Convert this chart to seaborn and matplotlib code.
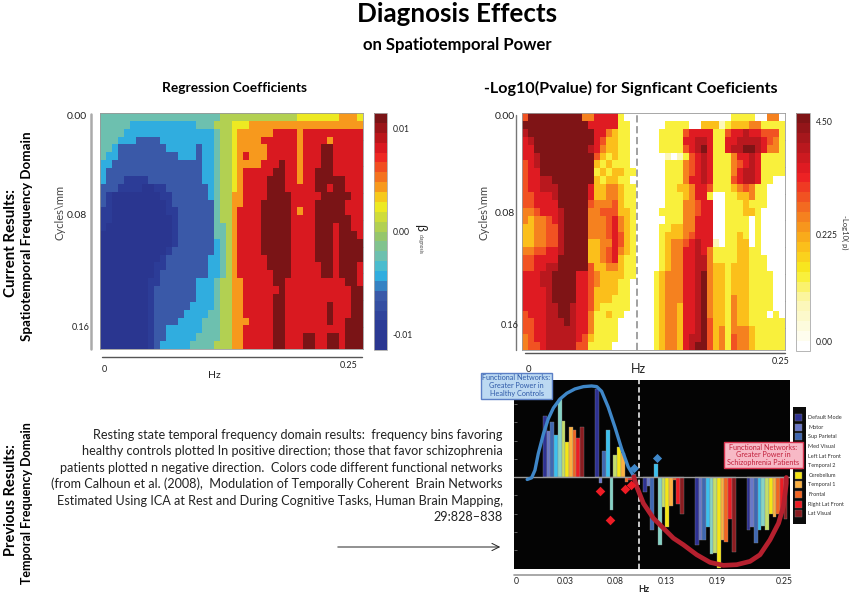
import numpy as np
import pandas as pd
import seaborn as sns
import matplotlib
matplotlib.use("Agg")
import matplotlib.pyplot as plt
from matplotlib.colors import LinearSegmentedColormap
from matplotlib.patches import Rectangle, FancyArrowPatch

W, H = 851, 596

# heat levels, one digit per cell
beta_rows = [
    "44444444444" "44444444455" "55555555555" "66666667776",
    "44444333333" "33333444555" "66677777777" "77777777777",
    "44443333333" "33333333455" "67777778888" "78888888888",
    "44433322223" "33333333455" "67777888888" "78888788888",
    "44322222222" "33333233455" "67777788888" "78889988888",
    "43322222222" "22333233455" "67877788888" "78889988888",
    "33222222222" "22222233455" "67777888988" "78889988888",
    "32222222222" "22222233455" "67888889988" "78899988888",
    "32221111222" "22222233455" "67888899988" "78899999888",
    "22211110011" "22222223455" "67888899988" "88899899888",
    "21000000001" "12222223455" "77888899998" "88889999988",
    "21000000000" "12222222455" "77888999998" "88899999888",
    "11000000000" "11222222455" "78888999998" "78899999888",
    "11000000000" "01222222455" "78888999998" "88899999988",
    "10000000000" "01222222445" "78888999998" "88899989988",
    "00000000000" "01222222445" "78888999998" "88899989998",
    "00000000000" "01222222345" "78888999998" "88899989999",
    "00000000000" "12222222345" "78888999998" "88899989999",
    "00000000001" "22222223345" "78888899998" "88899989999",
    "00000000011" "22222223345" "78888899998" "88889989998",
    "00000000012" "22222223345" "78888889998" "88889989998",
    "00000000112" "22222333455" "77888889988" "88888888998",
    "00000000122" "22222333455" "77888888988" "88888888899",
    "00000000122" "22222333455" "77888889988" "88888888899",
    "00000000122" "22223333455" "77888889988" "88888988899",
    "00000000122" "22233334455" "77888889988" "88888988899",
    "00000000122" "22333344455" "77788889988" "88888988999",
    "00000000122" "33333344455" "77888889988" "88888888999",
    "00000000122" "33333444455" "77888889988" "89988998999",
    "00000000123" "33334444555" "77888889988" "89988998999",
]
pval_rows = [
    "58888888884" "46666200000" "00000000000" "00222200440",
    "88888888888" "66666220000" "00222200333" "12333442222",
    "78888888888" "86643220000" "02222566662" "25667665552",
    "67888888888" "86533220000" "02222667762" "26677776542",
    "66888888888" "76433220000" "02222567862" "26778876442",
    "66788888888" "85323220000" "00101256762" "22466762222",
    "56788888888" "83232220000" "00222456762" "22456762222",
    "56688888888" "82323322000" "00222456762" "22467762222",
    "56677888888" "83233220000" "00222466762" "22567762200",
    "56677788888" "63344322000" "00223346652" "22345422000",
    "55666788888" "63344322000" "00222346620" "02233422000",
    "55666688888" "54445322000" "00222445660" "02223222000",
    "44566678888" "44555332000" "02222445660" "02223320000",
    "43445678888" "44456432000" "00222446660" "02222020000",
    "33445578888" "44456432000" "02233446660" "02222020000",
    "33445578888" "44456532000" "02333456660" "02232020000",
    "33445578888" "33446532000" "02344567661" "02233020000",
    "44556678888" "33456432000" "02344667642" "22233220000",
    "55666688888" "33456322000" "02344667742" "22233222000",
    "55667788888" "53344322000" "02344667743" "32333222000",
    "66677888866" "54333322000" "23444667843" "32333222200",
    "66677888866" "54333220000" "23444667843" "32333222200",
    "66667888866" "53333220000" "23444667843" "32333222200",
    "66667888866" "53332220000" "23444667843" "32433222200",
    "66667788766" "53222220000" "23443667843" "32433222200",
    "56667788766" "42232200000" "23443667843" "32433222020",
    "55667778766" "42222000000" "23443667853" "32433222222",
    "55667777766" "42222000000" "23443667853" "42444322222",
    "45667777765" "32222000000" "23443677853" "42544322222",
    "45567777755" "22220000000" "23443678853" "42544322222",
]
beta_levels = [0.0, 0.12, 0.22, 0.32, 0.40, 0.50, 0.62, 0.70, 0.85, 0.97]
pval_levels = [0.0, 0.2, 0.33, 0.44, 0.55, 0.65, 0.77, 0.86, 0.97]

beta_cmap_colors = ["#2a3690", "#2c3d98", "#3a5aa8", "#2fb8e6", "#6cc0b0", "#9cc763",
                    "#f5ec1c", "#f7941d", "#ed1c24", "#c4161c", "#7a1416"]
beta_cmap_pos = [0.0, 0.1, 0.22, 0.315, 0.39, 0.49, 0.62, 0.70, 0.84, 0.90, 1.0]
pval_cmap_colors = ["#ffffff", "#fbf6b0", "#f8ee20", "#fbb81a", "#f47a20", "#ed1c24", "#b5181e", "#7f1416"]
pval_cmap_pos = [0.0, 0.2, 0.33, 0.45, 0.58, 0.75, 0.88, 1.0]

# previous results panel: bars in bin units, heights as read
networks = ["Default Mode", "Motor", "Sup Parietal", "Med Visual", "Left Lat Front", "Temporal 2",
            "Cerebellum", "Temporal 1", "Frontal", "Right Lat Front", "Lat Visual"]
net_colors = ["#2e3192", "#6a78c8", "#3f67b1", "#3cc0ee", "#86d3c6", "#c4de6a",
              "#f5e616", "#fbb040", "#f26522", "#ed1c24", "#8a1c20"]
bar_bins = list(range(8, 19)) + list(range(22, 33)) + list(range(35, 46)) + list(range(49, 60)) + list(range(63, 74))
bar_heights = [185, 140, 165, 127, 235, 170, 105, 150, 143, 117, 150,
               265, -18, 78, 143, -100, 66, 90, 73, -15, -10, 8,
               -45, -27, -158, 40, -205, -90, -150, -88, -10, -80, -110,
               -205, -190, -190, -150, -232, -228, -275, -190, -195, -127, -225,
               -158, -150, -200, -160, -148, -158, -110, -120, -110, -100, -125]
blue_x = [3.2, 4.4, 5.3, 6.2, 7.6, 8.9, 10.3, 12.1, 13.9, 16.1, 18.4, 20.6, 22.0, 23.3, 25.1, 26.9, 28.7, 30.5, 32.1]
blue_y = [-7, -2, 21, 71, 131, 176, 209, 236, 253, 266, 273, 275, 273, 259, 211, 151, 86, 31, 1]
red_x = [32.0, 32.8, 34.6, 37.3, 40.0, 42.7, 45.4, 49.0, 52.6, 56.2, 59.8, 63.4, 66.1, 68.8, 71.1, 72.4, 73.2, 73.2]
red_y = [1, -29, -79, -124, -154, -184, -204, -234, -257, -266, -264, -254, -234, -189, -139, -89, -19, -1]
red_dx = [22.9, 25.7, 29.5, 31.2]
red_dy = [-41, -128, -36, -25]
blue_dx = [32.1, 38.4]
blue_dy = [29, 58]
hz_ticks = [0.2, 13.4, 26.9, 40.7, 54.4, 72.6]
hz_labels = ["0", "0.03", "0.08", "0.13", "0.19", "0.25"]

paragraph = [
    "Resting state temporal frequency domain results:  frequency bins favoring",
    "healthy controls plotted In positive direction; those that favor schizophrenia",
    "patients plotted n negative direction.  Colors code different functional networks",
    "(from Calhoun et al. (2008),  Modulation of Temporally Coherent  Brain Networks",
    "Estimated Using ICA at Rest and During Cognitive Tasks, Human Brain Mapping,",
    "29:828\u2013838",
]

sns.set_theme(style="white")
plt.rcParams["font.family"] = ["Lato", "DejaVu Sans"]

fig = plt.figure(figsize=(W / 100, H / 100), dpi=100, facecolor="white")


def px_axes(x0, y0, x1, y1):
    return fig.add_axes([x0 / W, 1 - y1 / H, (x1 - x0) / W, (y1 - y0) / H])


def txt(x, y, s, size=8, weight="normal", ha="center", va="center", color="#222222", rot=0, **kw):
    fig.text(x / W, 1 - y / H, s, fontsize=size, fontweight=weight, ha=ha, va=va, color=color,
             rotation=rot, zorder=8, **kw)


def rule(x0, y0, x1, y1, color="#888888", lw=1.5):
    fig.add_artist(plt.Line2D([x0 / W, x1 / W], [1 - y0 / H, 1 - y1 / H], color=color, lw=lw, zorder=4))


def to_frame(rows, levels):
    return pd.DataFrame([[levels[int(c)] for c in r] for r in rows])


def heat(rows, levels, colors, pos, box, cbox, ticks, labels):
    cmap = LinearSegmentedColormap.from_list("c", list(zip(pos, colors)), N=24)
    ax = px_axes(*box)
    cax = px_axes(*cbox)
    sns.heatmap(to_frame(rows, levels), ax=ax, cbar_ax=cax, cmap=cmap, vmin=0, vmax=1,
                xticklabels=False, yticklabels=False)
    for side in ax.spines.values():
        side.set_visible(True)
        side.set_color("#999999")
        side.set_linewidth(0.6)
    ax.set_xticks(np.arange(4.4, 44, 4.4))
    ax.tick_params(axis="x", top=True, bottom=False, direction="in", length=2, width=0.5, color="#444444")
    ax.set_yticks(np.arange(3.4, 30, 3.4))
    ax.tick_params(axis="y", right=True, left=False, direction="in", length=2, width=0.5, color="#444444")
    ax.set_xticklabels([])
    ax.set_yticklabels([])
    cax.set_yticks(ticks)
    cax.set_yticklabels(labels, fontsize=6.2, color="#222222")
    cax.yaxis.tick_right()
    cax.tick_params(axis="y", length=0, pad=4)
    cb_outline = ax.collections[0].colorbar.outline
    cb_outline.set_edgecolor("#aaaaaa")
    cb_outline.set_linewidth(0.6)
    return ax


# top titles
txt(457, 14, "Diagnosis Effects", size=18.7, weight="bold", color="black")
txt(457, 45, "on Spatiotemporal Power", size=12, weight="bold", color="black")
txt(235, 88, "Regression Coefficients", size=9.9, weight="bold", color="black")
txt(631, 88, "-Log10(Pvalue) for Signficant Coeficients", size=11.6, weight="bold", color="black")

# left side labels
txt(11, 243, "Current Results:", size=10.8, weight="bold", rot=90, color="black")
txt(27, 236, "Spatiotemporal Frequency Domain", size=9.6, weight="bold", rot=90, color="black")
txt(11, 500, "Previous Results:", size=10.5, weight="bold", rot=90, color="black")
txt(27, 503, "Temporal Frequency Domain", size=9.0, weight="bold", rot=90, color="black")

# regression panel
heat(beta_rows, beta_levels, beta_cmap_colors, beta_cmap_pos, (100, 113, 363, 349), (374, 113, 387, 350),
     [0.5 + 0.01 / 0.023, 0.5, 0.5 - 0.01 / 0.023], ["0.01", "0.00", "-0.01"])
rule(91, 114, 91, 349, lw=1.8, color="#aaaaaa")
rule(102, 357, 362, 357, lw=1.0, color="#555555")
txt(77, 116, "0.00", size=7.5)
txt(77, 215, "0.08", size=7.5)
txt(81, 327, "0.16", size=6.5)
txt(60, 212, "Cycles\\mm", size=8, rot=90, color="#444444")
txt(104, 369, "0", size=6.5)
txt(349, 365, "0.25", size=6.5)
txt(214, 376, "Hz", size=7.5)
txt(420, 227, "\u03b2", size=9, rot=-90)
txt(420, 244, "diagnosis", size=3.5, rot=-90, color="#444444")

# p value panel
pax = heat(pval_rows, pval_levels, pval_cmap_colors, pval_cmap_pos, (522, 113, 785, 350), (796, 113, 810, 351),
           [0.966, 0.49, 0.04], ["4.50", "0.225", "0.00"])
pax.axvline(19.3, color="#9a9a9a", lw=1.3, ls=(0, (4, 2)))
rule(516, 115, 516, 350, lw=1.0, color="#777777")
rule(525, 353, 785, 353, lw=1.0, color="#555555")
txt(505, 116, "0.00", size=7.5)
txt(505, 214, "0.08", size=7.5)
txt(510, 326, "0.16", size=6.5)
txt(484, 212, "Cycles\\mm", size=8, rot=90, color="#444444")
txt(528, 369, "0", size=7)
txt(781, 362, "0.25", size=6.5)
txt(638, 369, "Hz", size=9)
txt(845, 232, "-Log10( p)", size=5.5, rot=-90, color="#333333")

# previous results text
for i, line in enumerate(paragraph):
    txt(503, 435 + i * 16.4, line, size=9.1, ha="right", color="#222222")
fig.add_artist(FancyArrowPatch((335 / W, 1 - 547 / H), (503 / W, 1 - 547 / H), transform=fig.transFigure,
                               arrowstyle="->", mutation_scale=13, lw=0.7, color="#222222", zorder=4))

# bar panel
bax = px_axes(514, 380, 790, 569)
bars = pd.DataFrame({"bin": bar_bins, "height": bar_heights,
                     "net": [networks[i % 11] for i in range(len(bar_bins))]})
sns.barplot(data=bars, x="bin", y="height", hue="net", hue_order=networks, palette=net_colors, native_scale=True,
            dodge=False, width=1.0, saturation=1, legend=False, ax=bax, edgecolor="#8a8a8a", linewidth=0.25)
bax.set_facecolor("#040404")
bax.axhline(0, color="#9a9a9a", lw=1.0, zorder=3)
bax.axvline(33.4, color="white", lw=1.1, ls=(0, (3.5, 2)), zorder=4)
sns.lineplot(x=blue_x, y=blue_y, color="#3f87c8", lw=2.4, sort=False, estimator=None, ax=bax, zorder=5)
sns.lineplot(x=red_x, y=red_y, color="#b5202e", lw=3.4, sort=False, estimator=None, ax=bax, zorder=6)
sns.scatterplot(x=red_dx, y=red_dy, color="#ee1c25", marker="D", s=24, linewidth=0, ax=bax, zorder=7)
sns.scatterplot(x=blue_dx, y=blue_dy, color="#3f87c8", marker="D", s=22, linewidth=0, ax=bax, zorder=7)
bax.set_xlim(-0.36, 74.2)
bax.set_ylim(-277, 293)
bax.set_xticks(hz_ticks)
bax.set_xticklabels([])
bax.set_yticks(np.arange(-220, 290, 55))
bax.set_yticklabels([])
bax.set_xlabel("")
bax.set_ylabel("")
for side in bax.spines.values():
    side.set_visible(False)
bax.tick_params(axis="x", length=0)
bax.tick_params(axis="y", left=True, direction="in", length=2.5, width=0.5, color="#888888")
rule(514, 574.5, 790, 574.5, lw=1.2, color="#9a9a9a")
for t, lab in zip([516, 565, 615, 666, 717, 784], hz_labels):
    txt(t, 581, lab, size=6.2)
txt(644, 590, "Hz", size=6.5, weight="bold")

# network legend
lax = px_axes(793, 407, 806, 524)
lax.set_facecolor("#0b0b0b")
lax.set_xlim(793, 806)
lax.set_ylim(524, 407)
lax.set_xticks([])
lax.set_yticks([])
for side in lax.spines.values():
    side.set_visible(False)
for i, (name, c) in enumerate(zip(networks, net_colors)):
    yc = 417.7 + i * 9.6
    lax.add_patch(Rectangle((795, yc - 3.5), 7, 7, facecolor=c, edgecolor="#777777", lw=0.3))
    txt(808.5, yc, name, size=4, ha="left", color="#333333")

# callouts
fig.add_artist(Rectangle((481 / W, 1 - 399 / H), 71 / W, 26 / H, transform=fig.transFigure, facecolor="#bcd9f2",
                         edgecolor="#5b7fc6", lw=1.0, zorder=5))
fig.add_artist(Rectangle((724 / W, 1 - 468 / H), 79 / W, 26 / H, transform=fig.transFigure, facecolor="#f7b9c6",
                         edgecolor="#d8324e", lw=1.0, zorder=5))
for i, s in enumerate(["Functional Networks:", "Greater Power in", "Healthy Controls"]):
    txt(516.5, 378 + i * 7.8, s, size=5.2, color="#2f5aa8")
for i, s in enumerate(["Functional Networks:", "Greater Power in", "Schizophrenia Patients"]):
    txt(763.5, 447 + i * 7.8, s, size=5.2, color="#c2203c")

fig.savefig("out.png", dpi=100)
